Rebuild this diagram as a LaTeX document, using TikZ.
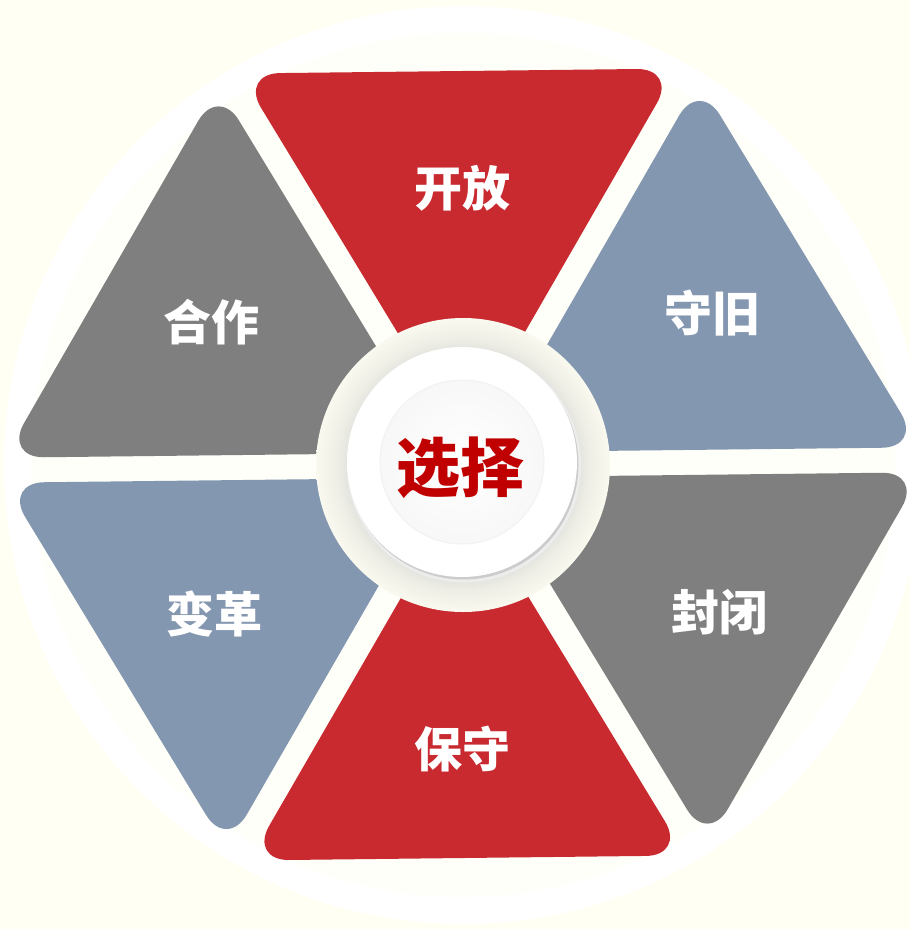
\documentclass[tikz,border=0pt]{standalone}
\usepackage{fontspec}
\newfontfamily\cjk{Noto Sans CJK SC}
\definecolor{bgcream}{RGB}{255,255,243}
\definecolor{innercream}{RGB}{255,255,249}
\definecolor{redc}{RGB}{200,42,48}
\definecolor{bluec}{RGB}{132,151,176}
\definecolor{grayc}{RGB}{127,127,127}
\definecolor{ctrred}{RGB}{192,0,0}
\definecolor{glowin}{RGB}{224,224,220}
\definecolor{glowmid}{RGB}{238,238,230}
\definecolor{glowout}{RGB}{249,249,239}
\pgfdeclareradialshading{glowshade}{\pgfpoint{0bp}{0bp}}{color(0bp)=(glowin); color(19bp)=(glowin); color(21.5bp)=(glowmid); color(25bp)=(glowout); color(50bp)=(glowout)}
\tikzset{
  tri/.style={rounded corners=40pt},
  lbl/.style={font=\cjk\bfseries\fontsize{48}{48}\selectfont, text=white, inner sep=0pt},
  ctrlbl/.style={font=\cjk\bfseries\fontsize{64}{64}\selectfont, text=ctrred, inner sep=0pt}
}
\begin{document}
\begin{tikzpicture}[x=1pt,y=-1pt]
\useasboundingbox (0,0) rectangle (910,929);
\fill[bgcream] (0,0) rectangle (910,929);
\coordinate (c) at (463,465);
\fill[white] (c) circle (459pt);
\fill[innercream] (c) circle (432pt);
\begin{scope}[shift={(463,465)}, rotate=0.65, xscale=1.025]
  \fill[redc, tri] (-213,-394) -- (213,-394) -- (0,-25) -- cycle;
  \fill[redc, tri] (-213,393) -- (213,393) -- (0,25) -- cycle;
  \fill[grayc, tri] (-21.65,-12.5) -- (-447.65,-12.5) -- (-234.65,-381.5) -- cycle;
  \fill[bluec, tri] (-21.65,12.5) -- (-447.65,12.5) -- (-234.65,381.5) -- cycle;
  \fill[bluec, tri] (21.65,-12.5) -- (447.65,-12.5) -- (234.65,-381.5) -- cycle;
  \fill[grayc, tri] (21.65,12.5) -- (447.65,12.5) -- (234.65,381.5) -- cycle;
\end{scope}
% centre disc
\shade[shading=glowshade] (c) circle (147pt);
\coordinate (p) at (462,462);
\fill[black!7] ([shift={(2,3.5)}]p) circle (117pt);
\fill[black!20] ([shift={(1.5,2.5)}]p) circle (115pt);
\fill[white] (p) circle (115pt);
\shade[inner color=white, outer color=black!3] (p) circle (82pt);
\draw[black!5, line width=1pt] (p) circle (82pt);
\node[ctrlbl] (xuanze) at (460,468) {选择};
\node[lbl] (kaifang) at (462,188) {开放};
\node[lbl] (shoujiu) at (712,313) {守旧};
\node[lbl] (hezuo) at (211,322) {合作};
\node[lbl] (biange) at (214,614) {变革};
\node[lbl] (fengbi) at (719,612) {封闭};
\node[lbl] (baoshou) at (462,749) {保守};
\end{tikzpicture}
\end{document}
